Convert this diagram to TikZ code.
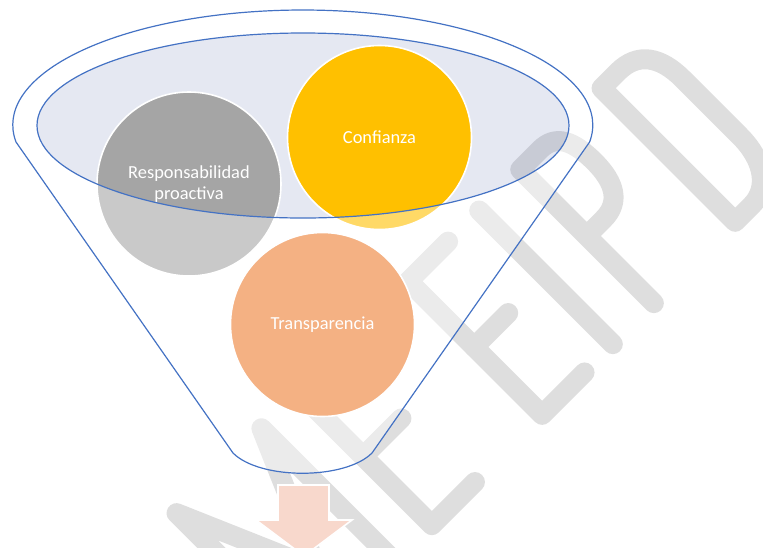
\documentclass[tikz,border=0pt]{standalone}
\usepackage{fontspec}
\setmainfont{Carlito}
\definecolor{wmgray}{RGB}{222,222,222}
\definecolor{funblue}{RGB}{68,114,196}
\definecolor{ellfill}{RGB}{68,90,160}
\definecolor{cgray}{RGB}{165,165,165}
\definecolor{cyellow}{RGB}{255,192,0}
\definecolor{corange}{RGB}{237,125,49}
\definecolor{arrowpink}{RGB}{248,216,204}
\begin{document}
\begin{tikzpicture}[x=1pt,y=-1pt,
  wm/.style={draw=wmgray, line width=20pt, line cap=round, line join=round},
  circ/.style={circle, minimum size=184pt, inner sep=0pt, draw=white, line width=1.6pt,
    text=white, align=center, font=\fontsize{18.4}{21}\selectfont},
  outline/.style={draw=funblue, line width=1.2pt}]
\useasboundingbox (0,0) rectangle (763,547);
% watermark
\begin{scope}[shift={(478.5,478.5)}, rotate=45, x=1pt, y=1pt, wm]
  \draw (-238,0) -- (-238,189) -- (-178,50) -- (-118,189) -- (-118,0);
  \draw (-10,189) -- (-66,189) -- (-66,0) -- (-5,0);
  \draw (-66,97) -- (-12,97);
  \draw (146,189) -- (90,189) -- (90,0) -- (150,0);
  \draw (90,96) -- (138,96);
  \draw (190,0) -- (190,189);
  \draw (248,0) -- (248,189) -- (276,189) .. controls (298,189) and (306,172) .. (306,142)
        .. controls (306,112) and (295,95) .. (272,95) -- (248,95);
  \draw (363,0) -- (363,189) -- (386,189) .. controls (414,189) and (427,170) .. (427,138)
        -- (427,58) .. controls (427,22) and (410,0) .. (386,0) -- cycle;
\end{scope}
% inner ellipse fill
\fill[ellfill, fill opacity=0.14] (303,125.5) ellipse [x radius=266, y radius=92.5];
% circles
\node[circ, fill=cgray] (resp) at (189,184) {Responsabilidad\\proactiva};
\node[circ, fill=cyellow] (conf) at (379.5,137.5) {Confianza};
\node[circ, fill=corange] (trans) at (322.5,324.5) {Transparencia};
% funnel body overlay
\coordinate (tl) at (16,142);
\coordinate (tr) at (590,142);
\coordinate (br) at (372,453);
\coordinate (bl) at (233,453);
\fill[white, fill opacity=0.4, even odd rule]
  (tl) arc[start angle=171.5, end angle=368.5, x radius=290, y radius=115]
  -- (br) .. controls (345,480) and (260,480) .. (bl) -- cycle
  (303,125.5) ellipse [x radius=266, y radius=92.5];
% outlines
\draw[outline]
  (tl) arc[start angle=171.5, end angle=368.5, x radius=290, y radius=115]
  -- (br) .. controls (345,480) and (260,480) .. (bl) -- cycle;
\draw[outline] (303,125.5) ellipse [x radius=266, y radius=92.5];
% arrow
\fill[arrowpink, draw=white, line width=1.6pt]
  (278,485) -- (329,485) -- (329,520) -- (352,520) -- (304,556) -- (256,520) -- (278,520) -- cycle;
\end{tikzpicture}
\end{document}
